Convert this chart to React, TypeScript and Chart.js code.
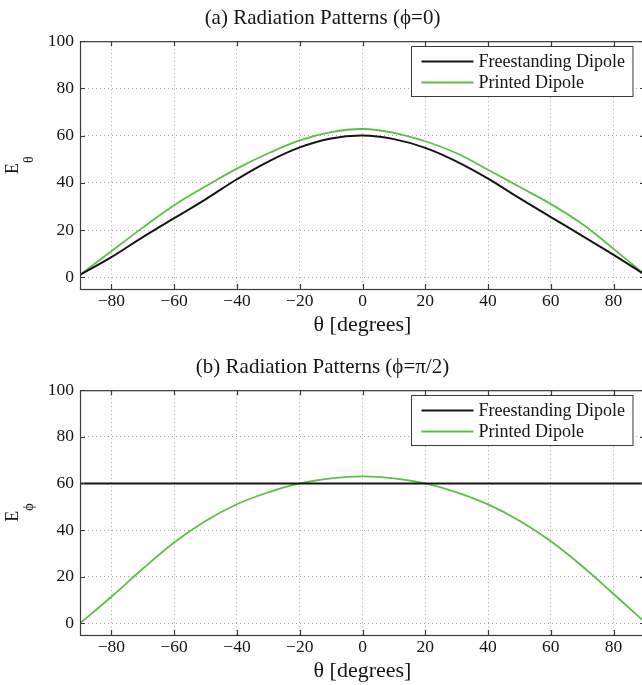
import React, { useEffect, useRef } from "react";
import { Chart, registerables } from "chart.js";

Chart.register(...registerables);

// ---------- data ----------
const thetaDeg = [-90, -80, -70, -60, -50, -40, -30, -20, -10, 0, 10, 20, 30, 40, 50, 60, 70, 80, 90];

// (a) phi = 0
const eThetaFreestanding = [1, 8.5, 17, 25, 33, 41.5, 49, 55, 58.8, 60, 58.5, 54.8, 49, 41.8, 33.5, 25.5, 17.5, 9.5, 1];
const eThetaPrinted = [1, 11, 21, 30.5, 38.5, 46, 52.5, 58, 61.5, 62.8, 61.2, 57.6, 52.5, 45.5, 38.3, 31, 22.5, 12, 1];

// (b) phi = pi/2
const ePhiFreestanding = [60, 60, 60, 60, 60, 60, 60, 60, 60, 60, 60, 60, 60, 60, 60, 60, 60, 60, 60];
const ePhiPrinted = [0, 11.4, 23.4, 34.7, 43.9, 51.1, 56.2, 60, 62.2, 63, 62.2, 60, 56.2, 51, 44, 35.2, 24.5, 12.6, 0.4];

const xTickValues = [-80, -60, -40, -20, 0, 20, 40, 60, 80];
const yTickValues = [0, 20, 40, 60, 80, 100];

const seriesLabels = ["Freestanding Dipole", "Printed Dipole"];
const titles = ["(a) Radiation Patterns (\u03D5=0)", "(b) Radiation Patterns (\u03D5=\u03C0/2)"];
const xAxisTitle = "\u03B8 [degrees]";
const yAxisMain = "E";
const yAxisSubs = ["\u03B8", "\u03D5"];

// ---------- styles ----------
const SERIF = "'Liberation Serif', 'DejaVu Serif', serif";
const BLACK = "#151515";
const GREEN = "#5cbf48";
const FRAME = "#3a3a3a";
const GRID = "rgba(110,110,110,0.6)";

const matlabDecor = {
  id: "matlabDecor",
  afterDatasetsDraw(chart: any, _args: any, opts: any) {
    const { ctx, chartArea } = chart;
    const xs = chart.scales.x;
    const ys = chart.scales.y;
    const { left, right, top, bottom } = chartArea;
    ctx.save();
    // frame
    ctx.strokeStyle = FRAME;
    ctx.lineWidth = 1.2;
    ctx.setLineDash([]);
    ctx.strokeRect(left + 0.5, top + 0.5, right - left - 1, bottom - top);
    // inward ticks
    const tl = 5;
    ctx.beginPath();
    xTickValues.forEach((v) => {
      const px = Math.round(xs.getPixelForValue(v)) + 0.5;
      ctx.moveTo(px, bottom);
      ctx.lineTo(px, bottom - tl);
      ctx.moveTo(px, top);
      ctx.lineTo(px, top + tl);
    });
    yTickValues.forEach((v) => {
      const py = Math.round(ys.getPixelForValue(v)) + 0.5;
      ctx.moveTo(left, py);
      ctx.lineTo(left + tl, py);
      ctx.moveTo(right, py);
      ctx.lineTo(right - tl, py);
    });
    ctx.stroke();

    // legend
    ctx.font = `18px ${SERIF}`;
    const ds = chart.data.datasets;
    const textW = Math.max(...ds.map((d: any) => ctx.measureText(d.label).width));
    const w = 67 + textW + 8;
    const h = 50;
    const bx = Math.round(right - 13 - w) + 0.5;
    const by = Math.round(top + 5) + 0.5;
    ctx.fillStyle = "#ffffff";
    ctx.fillRect(bx, by, w, h);
    ctx.strokeStyle = FRAME;
    ctx.lineWidth = 1;
    ctx.strokeRect(bx, by, w, h);
    ds.forEach((d: any, i: number) => {
      const ry = by + 15 + i * 21;
      ctx.strokeStyle = d.borderColor;
      ctx.lineWidth = d.borderWidth;
      ctx.beginPath();
      ctx.moveTo(bx + 10, ry);
      ctx.lineTo(bx + 62, ry);
      ctx.stroke();
      ctx.fillStyle = BLACK;
      ctx.textBaseline = "middle";
      ctx.textAlign = "left";
      ctx.fillText(d.label, bx + 67, ry + 1);
    });

    // y axis title with subscript
    const cy = (top + bottom) / 2;
    ctx.translate(18, cy);
    ctx.rotate(-Math.PI / 2);
    ctx.fillStyle = BLACK;
    ctx.textBaseline = "alphabetic";
    ctx.textAlign = "left";
    ctx.font = `18px ${SERIF}`;
    const wE = ctx.measureText(yAxisMain).width;
    ctx.font = `14px ${SERIF}`;
    const wS = ctx.measureText(opts.sub).width;
    const start = -(wE + wS) / 2;
    ctx.font = `18px ${SERIF}`;
    ctx.fillText(yAxisMain, start, 0);
    ctx.font = `14px ${SERIF}`;
    ctx.fillText(opts.sub, start + wE, 15);
    ctx.restore();
  },
};

function makeConfig(idx: number, free: number[], printed: number[], topPad: number): any {
  return {
    type: "line",
    data: {
      datasets: [
        {
          label: seriesLabels[0],
          data: thetaDeg.map((t, i) => ({ x: t, y: free[i] })),
          borderColor: BLACK,
          borderWidth: 2,
          pointRadius: 0,
          tension: 0.4,
          fill: false,
        },
        {
          label: seriesLabels[1],
          data: thetaDeg.map((t, i) => ({ x: t, y: printed[i] })),
          borderColor: GREEN,
          borderWidth: 1.8,
          pointRadius: 0,
          tension: 0.4,
          fill: false,
        },
      ],
    },
    options: {
      responsive: false,
      animation: false,
      devicePixelRatio: 1,
      layout: { padding: { top: topPad, left: 0, right: 0, bottom: 0 } },
      plugins: {
        legend: { display: false },
        tooltip: { enabled: false },
        title: {
          display: true,
          text: titles[idx],
          color: BLACK,
          font: { family: SERIF, size: 21, weight: "normal" },
          padding: { top: 6, bottom: 10 },
        },
        matlabDecor: { sub: yAxisSubs[idx] },
      },
      scales: {
        x: {
          type: "linear",
          min: -90,
          max: 90,
          afterBuildTicks: (s: any) => {
            s.ticks = xTickValues.map((v) => ({ value: v }));
          },
          afterFit: (s: any) => {
            s.height = 53;
          },
          ticks: {
            color: BLACK,
            font: { family: SERIF, size: 17.5 },
            padding: 2,
            maxRotation: 0,
            autoSkip: false,
            callback: (v: any) => String(v).replace("-", "\u2212"),
          },
          grid: { color: GRID, lineWidth: 1, drawTicks: false },
          border: { display: false, dash: [1, 3] },
          title: {
            display: true,
            text: xAxisTitle,
            color: BLACK,
            font: { family: SERIF, size: 22 },
            padding: { top: 0, bottom: 4 },
          },
        },
        y: {
          type: "linear",
          min: -5,
          max: 100,
          afterBuildTicks: (s: any) => {
            s.ticks = yTickValues.map((v) => ({ value: v }));
          },
          afterFit: (s: any) => {
            s.width = 80;
          },
          ticks: {
            color: BLACK,
            font: { family: SERIF, size: 17.5 },
            padding: 6,
            autoSkip: false,
          },
          grid: { color: GRID, lineWidth: 1, drawTicks: false },
          border: { display: false, dash: [1, 3] },
        },
      },
    },
    plugins: [matlabDecor],
  };
}

export default function App() {
  const topRef = useRef<HTMLCanvasElement | null>(null);
  const botRef = useRef<HTMLCanvasElement | null>(null);

  useEffect(() => {
    const c1 = new Chart(topRef.current as HTMLCanvasElement, makeConfig(0, eThetaFreestanding, eThetaPrinted, 0));
    const c2 = new Chart(botRef.current as HTMLCanvasElement, makeConfig(1, ePhiFreestanding, ePhiPrinted, 7));
    return () => {
      c1.destroy();
      c2.destroy();
    };
  }, []);

  return (
    <div
      style={{
        position: "fixed",
        left: 0,
        top: 0,
        width: 642,
        height: 685,
        overflow: "hidden",
        background: "#ffffff",
      }}
    >
      <canvas ref={topRef} width={645} height={342} style={{ position: "absolute", left: 0, top: 0, width: 645, height: 342 }} />
      <canvas ref={botRef} width={645} height={346} style={{ position: "absolute", left: 0, top: 342, width: 645, height: 346 }} />
    </div>
  );
}
